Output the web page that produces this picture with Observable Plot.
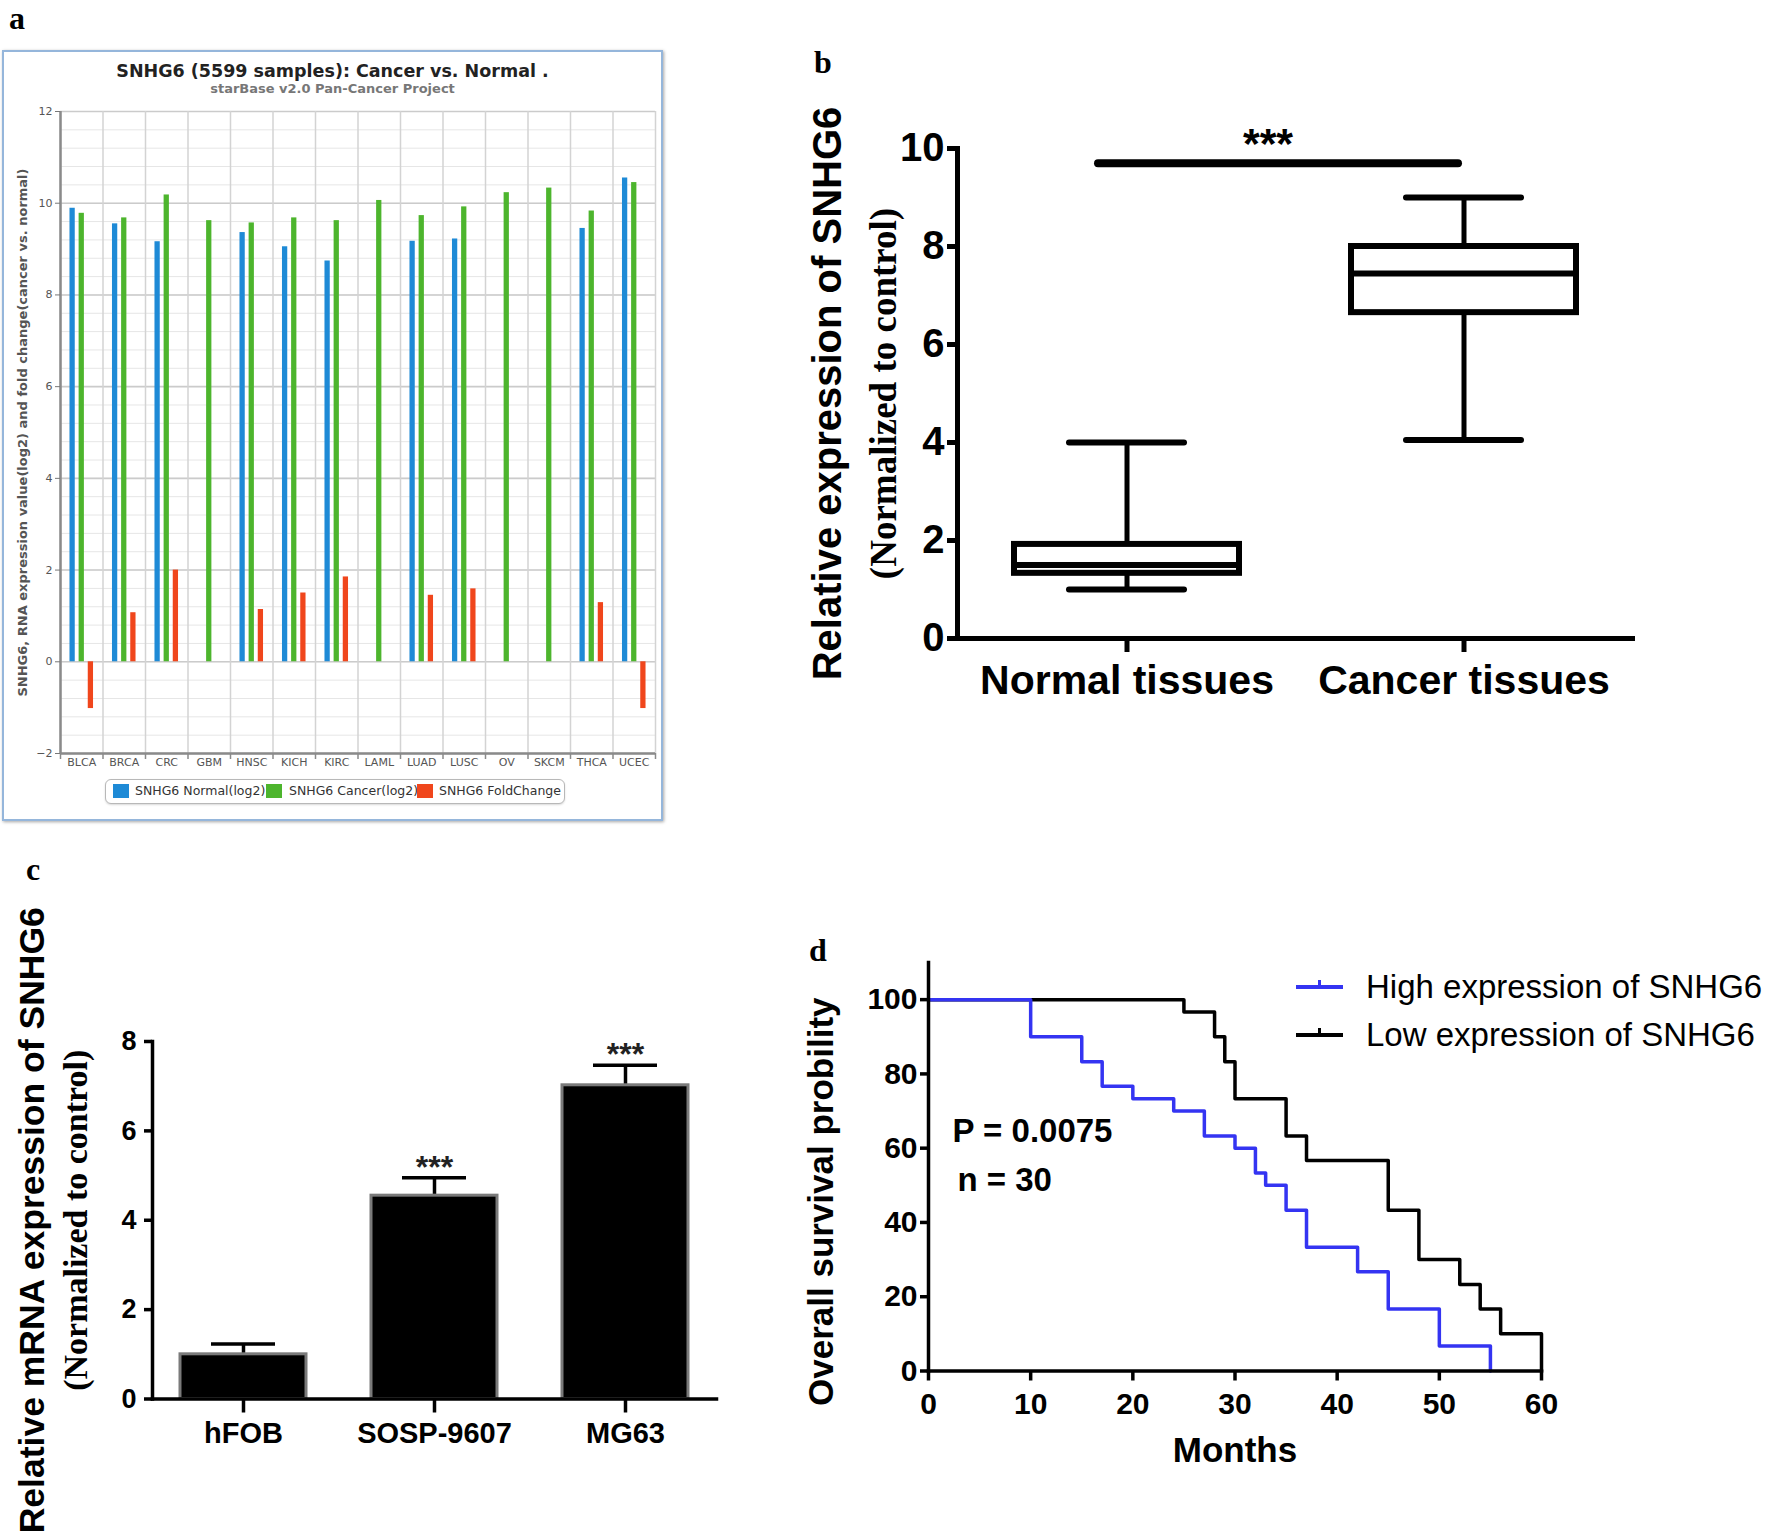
<!DOCTYPE html>
<html><head><meta charset="utf-8">
<script src="https://cdn.jsdelivr.net/npm/d3@7"></script>
<script src="https://cdn.jsdelivr.net/npm/@observablehq/plot@0.6"></script>
<style>
html,body{margin:0;padding:0;background:#fff;}
#page{position:relative;width:1770px;height:1538px;overflow:hidden;background:#fff;}
.abs{position:absolute;}
.letter{position:absolute;font-family:"Liberation Serif","Times New Roman",serif;font-weight:bold;font-size:32px;line-height:32px;color:#000;}
.abs svg{max-width:none !important;}
</style></head><body><div id="page"></div>
<script>
// ---------- Panel a data (starBase pan-cancer) ----------
const cancersA = ["BLCA","BRCA","CRC","GBM","HNSC","KICH","KIRC","LAML","LUAD","LUSC","OV","SKCM","THCA","UCEC"];
const normalA  = [9.89, 9.55, 9.16, null, 9.36, 9.05, 8.74, null, 9.17, 9.22, null, null, 9.45, 10.55];
const cancerA  = [9.78, 9.68, 10.18, 9.62, 9.57, 9.68, 9.62, 10.06, 9.73, 9.92, 10.23, 10.33, 9.83, 10.45];
const foldA    = [-1.02, 1.07, 2.0, null, 1.14, 1.5, 1.85, null, 1.45, 1.59, null, null, 1.29, -1.02];
const seriesA  = ["SNHG6 Normal(log2)", "SNHG6 Cancer(log2)", "SNHG6 FoldChange"];
const colorsA  = ["#1e8ad6", "#4db52d", "#f0461c"];
const yTicksA  = [-2, 0, 2, 4, 6, 8, 10, 12];
const titleA = "SNHG6 (5599 samples): Cancer vs. Normal .";
const subtitleA = "starBase v2.0 Pan-Cancer Project";
const yLabelA = "SNHG6, RNA expression value(log2) and fold change(cancer vs. normal)";

// ---------- Panel b data (box plot summary) ----------
const groupsB = ["Normal tissues", "Cancer tissues"];
const minB = [1.0, 4.05];
const q1B  = [1.33, 6.65];
const medB = [1.5, 7.45];
const q3B  = [1.92, 8.0];
const maxB = [4.0, 9.0];
const yTicksB = [0, 2, 4, 6, 8, 10];
const sigB = {from: "Normal tissues", to: "Cancer tissues", y: 9.7, label: "***"};

// ---------- Panel c data (cell lines) ----------
const cellsC = ["hFOB", "SOSP-9607", "MG63"];
const meanC = [1.0, 4.55, 7.02];
const errC  = [0.23, 0.4, 0.45];
const sigC  = ["", "***", "***"];
const yTicksC = [0, 2, 4, 6, 8];

// ---------- Panel d data (Kaplan-Meier) ----------
const timeHigh = [0, 10, 15, 17, 20, 24, 27, 30, 32, 33, 35, 37, 42, 45, 50, 55];
const survHigh = [100, 90, 83.3, 76.7, 73.3, 70, 63.3, 60, 53.3, 50, 43.3, 33.3, 26.7, 16.7, 6.7, 0];
const timeLow  = [0, 25, 28, 29, 30, 35, 37, 45, 48, 52, 54, 56, 60];
const survLow  = [100, 96.7, 90, 83.3, 73.3, 63.3, 56.7, 43.3, 30, 23.3, 16.7, 10, 0];
const xTicksD = [0, 10, 20, 30, 40, 50, 60];
const yTicksD = [0, 20, 40, 60, 80, 100];
const legendD = ["High expression of SNHG6", "Low expression of SNHG6"];
const colorsD = ["#3434f2", "#000000"];

const page = document.getElementById("page");
function place(node, left, top, w, h) {
  const d = document.createElement("div");
  d.className = "abs";
  d.style.left = left + "px"; d.style.top = top + "px";
  if (w) d.style.width = w + "px";
  if (h) d.style.height = h + "px";
  d.appendChild(node);
  page.appendChild(d);
  return d;
}
function html(str, css) {
  const d = document.createElement("div");
  d.className = "abs";
  d.style.cssText += css;
  d.innerHTML = str;
  page.appendChild(d);
  return d;
}
const baseStyle = {background: "transparent", overflow: "visible", color: "black", fontFamily: "'Liberation Sans', Arial, sans-serif"};

// ================= Panel a =================
html("", "left:2px;top:50px;width:657px;height:767px;border:2px solid #95b6db;box-shadow:1px 1px 3px rgba(0,0,0,0.35);");
html(titleA, "left:2px;top:61px;width:661px;text-align:center;font-family:'DejaVu Sans',Verdana,sans-serif;font-weight:bold;font-size:17.5px;line-height:20px;color:#222;");
html(subtitleA, "left:2px;top:81px;width:661px;text-align:center;font-family:'DejaVu Sans',Verdana,sans-serif;font-weight:bold;font-size:13px;line-height:16px;color:#777;");

const rowsA = [];
cancersA.forEach((c, i) => {
  [normalA, cancerA, foldA].forEach((arr, k) => {
    if (arr[i] != null) rowsA.push({idx: i, k, cat: c, series: seriesA[k], value: arr[i]});
  });
});
const offA = [0.285, 0.5, 0.715], hwA = 0.062;
const minorA = d3.range(0, 36).map(i => +(-2 + i * 0.4).toFixed(2));
const plotA = Plot.plot({
  width: 665, height: 675,
  marginLeft: 60, marginRight: 10, marginTop: 11, marginBottom: 22,
  style: {...baseStyle, color: "#555", fontFamily: "'DejaVu Sans', Verdana, sans-serif", fontSize: "11px"},
  x: {domain: [0, cancersA.length]},
  y: {domain: [-2, 12]},
  color: {domain: seriesA, range: colorsA},
  marks: [
    Plot.ruleY(minorA, {stroke: "#e6e6e6", strokeWidth: 1}),
    Plot.ruleY(yTicksA, {stroke: "#cbcbcb", strokeWidth: 1.6}),
    Plot.ruleX(d3.range(0, cancersA.length + 1), {stroke: "#d3d3d3", strokeWidth: 1.5}),
    Plot.rectY(rowsA, {
      x1: d => d.idx + offA[d.k] - hwA, x2: d => d.idx + offA[d.k] + hwA,
      y1: 0, y2: "value", fill: "series"
    }),
    Plot.ruleX([0], {stroke: "#8a8a8a", strokeWidth: 2.5}),
    Plot.ruleY([-2], {stroke: "#8a8a8a", strokeWidth: 2.5}),
    Plot.ruleX(d3.range(0, cancersA.length + 1), {y1: -2, y2: -2, insetBottom: -6, stroke: "#8a8a8a", strokeWidth: 1.5}),
    Plot.axisY({ticks: yTicksA, tickSize: 5, tickPadding: 3, label: null, fontSize: 11, stroke: "#777"}),
    Plot.axisX({ticks: cancersA.map((c, i) => i + 0.5), tickFormat: v => cancersA[Math.floor(v)], tickSize: 0, tickPadding: 5, label: null, fontSize: 11}),
    Plot.text([yLabelA], {frameAnchor: "left", textAnchor: "middle", lineAnchor: "middle", rotate: -90, dx: -38, fontSize: 13, fontWeight: "bold", fill: "#555"})
  ]
});
place(plotA, 0, 100, 665, 675);

// legend a
(function(){
  html("", "left:105px;top:779px;width:458px;height:23px;border:1px solid #b8b8b8;border-radius:6px;background:#fff;box-shadow:0 1px 2px rgba(0,0,0,0.15);");
  const xs = [[113, 135, 131], [266, 289, 128], [417, 439, 124]];
  seriesA.forEach((s, k) => {
    html(s, `left:${xs[k][1]}px;top:782px;width:${xs[k][2]}px;overflow:hidden;white-space:nowrap;font-family:'DejaVu Sans',Verdana,sans-serif;font-size:12.5px;line-height:18px;color:#333;`);
  });
  seriesA.forEach((s, k) => {
    html("", `left:${xs[k][0]}px;top:784px;width:16px;height:14px;background:${colorsA[k]};`);
  });
})();

// ================= Panel b =================
const rowsB = groupsB.map((g, i) => ({group: g, min: minB[i], q1: q1B[i], median: medB[i], q3: q3B[i], max: maxB[i]}));
const plotB = Plot.plot({
  width: 830, height: 640,
  marginLeft: 117, marginRight: 38, marginTop: 58, marginBottom: 92,
  style: baseStyle,
  x: {domain: groupsB, padding: 0},
  y: {domain: [0, 10]},
  marks: [
    Plot.ruleX(rowsB, {x: "group", y1: "min", y2: "max", strokeWidth: 5}),
    Plot.barY(rowsB, {x: "group", y1: "q1", y2: "q3", fill: "white", stroke: "black", strokeWidth: 6, insetLeft: 56, insetRight: 56}),
    Plot.tickY(rowsB, {x: "group", y: "median", strokeWidth: 6, inset: 56}),
    Plot.tickY(rowsB, {x: "group", y: "min", strokeWidth: 6, inset: 111, strokeLinecap: "round"}),
    Plot.tickY(rowsB, {x: "group", y: "max", strokeWidth: 6, inset: 111, strokeLinecap: "round"}),
    Plot.ruleY([sigB], {x1: "from", x2: "to", y: "y", strokeWidth: 8, strokeLinecap: "round", insetLeft: 140, insetRight: 174}),
    Plot.text([sigB], {x: "from", y: "y", text: "label", dx: 141, dy: -19, fontSize: 43, fontWeight: "bold"}),
    Plot.frame({anchor: "left", strokeWidth: 5}),
    Plot.frame({anchor: "bottom", strokeWidth: 5}),
    Plot.axisY({ticks: yTicksB, tickSize: 10, tickPadding: 3, strokeWidth: 5, fontSize: 40, fontWeight: "bold", label: null}),
    Plot.axisX({tickSize: 14, tickPadding: 12, strokeWidth: 5, fontSize: 41, fontWeight: "bold", label: null}),
    Plot.text(["Relative expression of SNHG6"], {frameAnchor: "left", textAnchor: "middle", lineAnchor: "middle", rotate: -90, dx: -129, fontSize: 40, fontWeight: "bold"}),
    Plot.text(["(Normalized to control)"], {frameAnchor: "left", textAnchor: "middle", lineAnchor: "middle", rotate: -90, dx: -73, fontSize: 37, fontWeight: "bold", fontFamily: "'Liberation Serif', 'Times New Roman', serif"})
  ]
});
place(plotB, 840, 90, 830, 640);

// ================= Panel c =================
const rowsC = cellsC.map((c, i) => ({cell: c, mean: meanC[i], top: meanC[i] + errC[i], sig: sigC[i]}));
const plotC = Plot.plot({
  width: 730, height: 688,
  marginLeft: 152, marginRight: 14, marginTop: 191, marginBottom: 139.5,
  style: baseStyle,
  x: {domain: cellsC, paddingInner: 0.339, paddingOuter: 0.14},
  y: {domain: [0, 8]},
  marks: [
    Plot.ruleX(rowsC, {x: "cell", y1: "mean", y2: "top", strokeWidth: 3.5}),
    Plot.tickY(rowsC, {x: "cell", y: "top", strokeWidth: 3.5, inset: 31}),
    Plot.barY(rowsC, {x: "cell", y: "mean", fill: "black", stroke: "#7a7a7a", strokeWidth: 3}),
    Plot.text(rowsC, {x: "cell", y: "top", text: "sig", dy: -10, fontSize: 32, fontWeight: "bold", fill: "#222"}),
    Plot.frame({anchor: "left", strokeWidth: 3.5}),
    Plot.frame({anchor: "bottom", strokeWidth: 3.5}),
    Plot.axisY({ticks: yTicksC, tickSize: 8, tickPadding: 8, strokeWidth: 3.5, fontSize: 27, fontWeight: "bold", label: null}),
    Plot.axisX({tickSize: 14, tickPadding: 9, strokeWidth: 3.5, fontSize: 29, fontWeight: "bold", label: null}),
    Plot.text(["Relative mRNA expression of SNHG6"], {frameAnchor: "left", textAnchor: "middle", lineAnchor: "middle", rotate: -90, dx: -120, fontSize: 35.5, fontWeight: "bold"}),
    Plot.text(["(Normalized to control)"], {frameAnchor: "left", textAnchor: "middle", lineAnchor: "middle", rotate: -90, dx: -76, fontSize: 34, fontWeight: "bold", fontFamily: "'Liberation Serif', 'Times New Roman', serif"})
  ]
});
place(plotC, 0, 850, 730, 688);

// ================= Panel d =================
const rowsHigh = timeHigh.map((t, i) => ({t, s: survHigh[i], group: legendD[0]}));
const rowsLow = timeLow.map((t, i) => ({t, s: survLow[i], group: legendD[1]}));
const plotD = Plot.plot({
  width: 990, height: 608,
  marginLeft: 148, marginRight: 229, marginTop: 32, marginBottom: 167.5,
  style: baseStyle,
  x: {domain: [0, 60]},
  y: {domain: [0, 110]},
  marks: [
    Plot.line(rowsLow, {x: "t", y: "s", curve: "step-after", stroke: colorsD[1], strokeWidth: 3.5}),
    Plot.line(rowsHigh, {x: "t", y: "s", curve: "step-after", stroke: colorsD[0], strokeWidth: 3.5}),
    Plot.frame({anchor: "left", strokeWidth: 3.5}),
    Plot.frame({anchor: "bottom", strokeWidth: 3.5}),
    Plot.axisY({ticks: yTicksD, tickSize: 8, tickPadding: 3, strokeWidth: 3.5, fontSize: 30, fontWeight: "bold", label: null}),
    Plot.axisX({ticks: xTicksD, tickSize: 10, tickPadding: 12, strokeWidth: 3.5, fontSize: 30, fontWeight: "bold", label: null}),
    Plot.text(["Months"], {frameAnchor: "bottom", textAnchor: "middle", lineAnchor: "middle", dy: 79.5, fontSize: 35, fontWeight: "bold"}),
    Plot.text(["Overall survival probility"], {frameAnchor: "left", textAnchor: "middle", lineAnchor: "middle", rotate: -90, dx: -107, dy: 35, fontSize: 35, fontWeight: "bold"}),
    Plot.text(["P = 0.0075"], {frameAnchor: "top-left", dx: 24, dy: 169, textAnchor: "start", lineAnchor: "middle", fontSize: 33, fontWeight: "bold"}),
    Plot.text(["n = 30"], {frameAnchor: "top-left", dx: 29, dy: 218, textAnchor: "start", lineAnchor: "middle", fontSize: 33, fontWeight: "bold"})
  ]
});
place(plotD, 780, 930, 990, 608);

// legend d
legendD.forEach((lab, k) => {
  const cy = [987, 1035][k];
  html("", `left:1296px;top:${cy - 2}px;width:47px;height:4px;background:${colorsD[k]};`);
  html("", `left:1318px;top:${cy - 7}px;width:3px;height:9px;background:${colorsD[k]};`);
  html(lab, `left:1366px;top:${cy - 17}px;white-space:nowrap;font-family:'Liberation Sans',Arial,sans-serif;font-size:33px;line-height:33px;color:#000;`);
});

// panel letters
[["a", 9, 2], ["b", 814, 46], ["c", 26, 853], ["d", 809, 934]].forEach(([t, x, y]) => {
  const d = document.createElement("div");
  d.className = "letter"; d.style.left = x + "px"; d.style.top = y + "px"; d.textContent = t;
  page.appendChild(d);
});
</script>
</body></html>
